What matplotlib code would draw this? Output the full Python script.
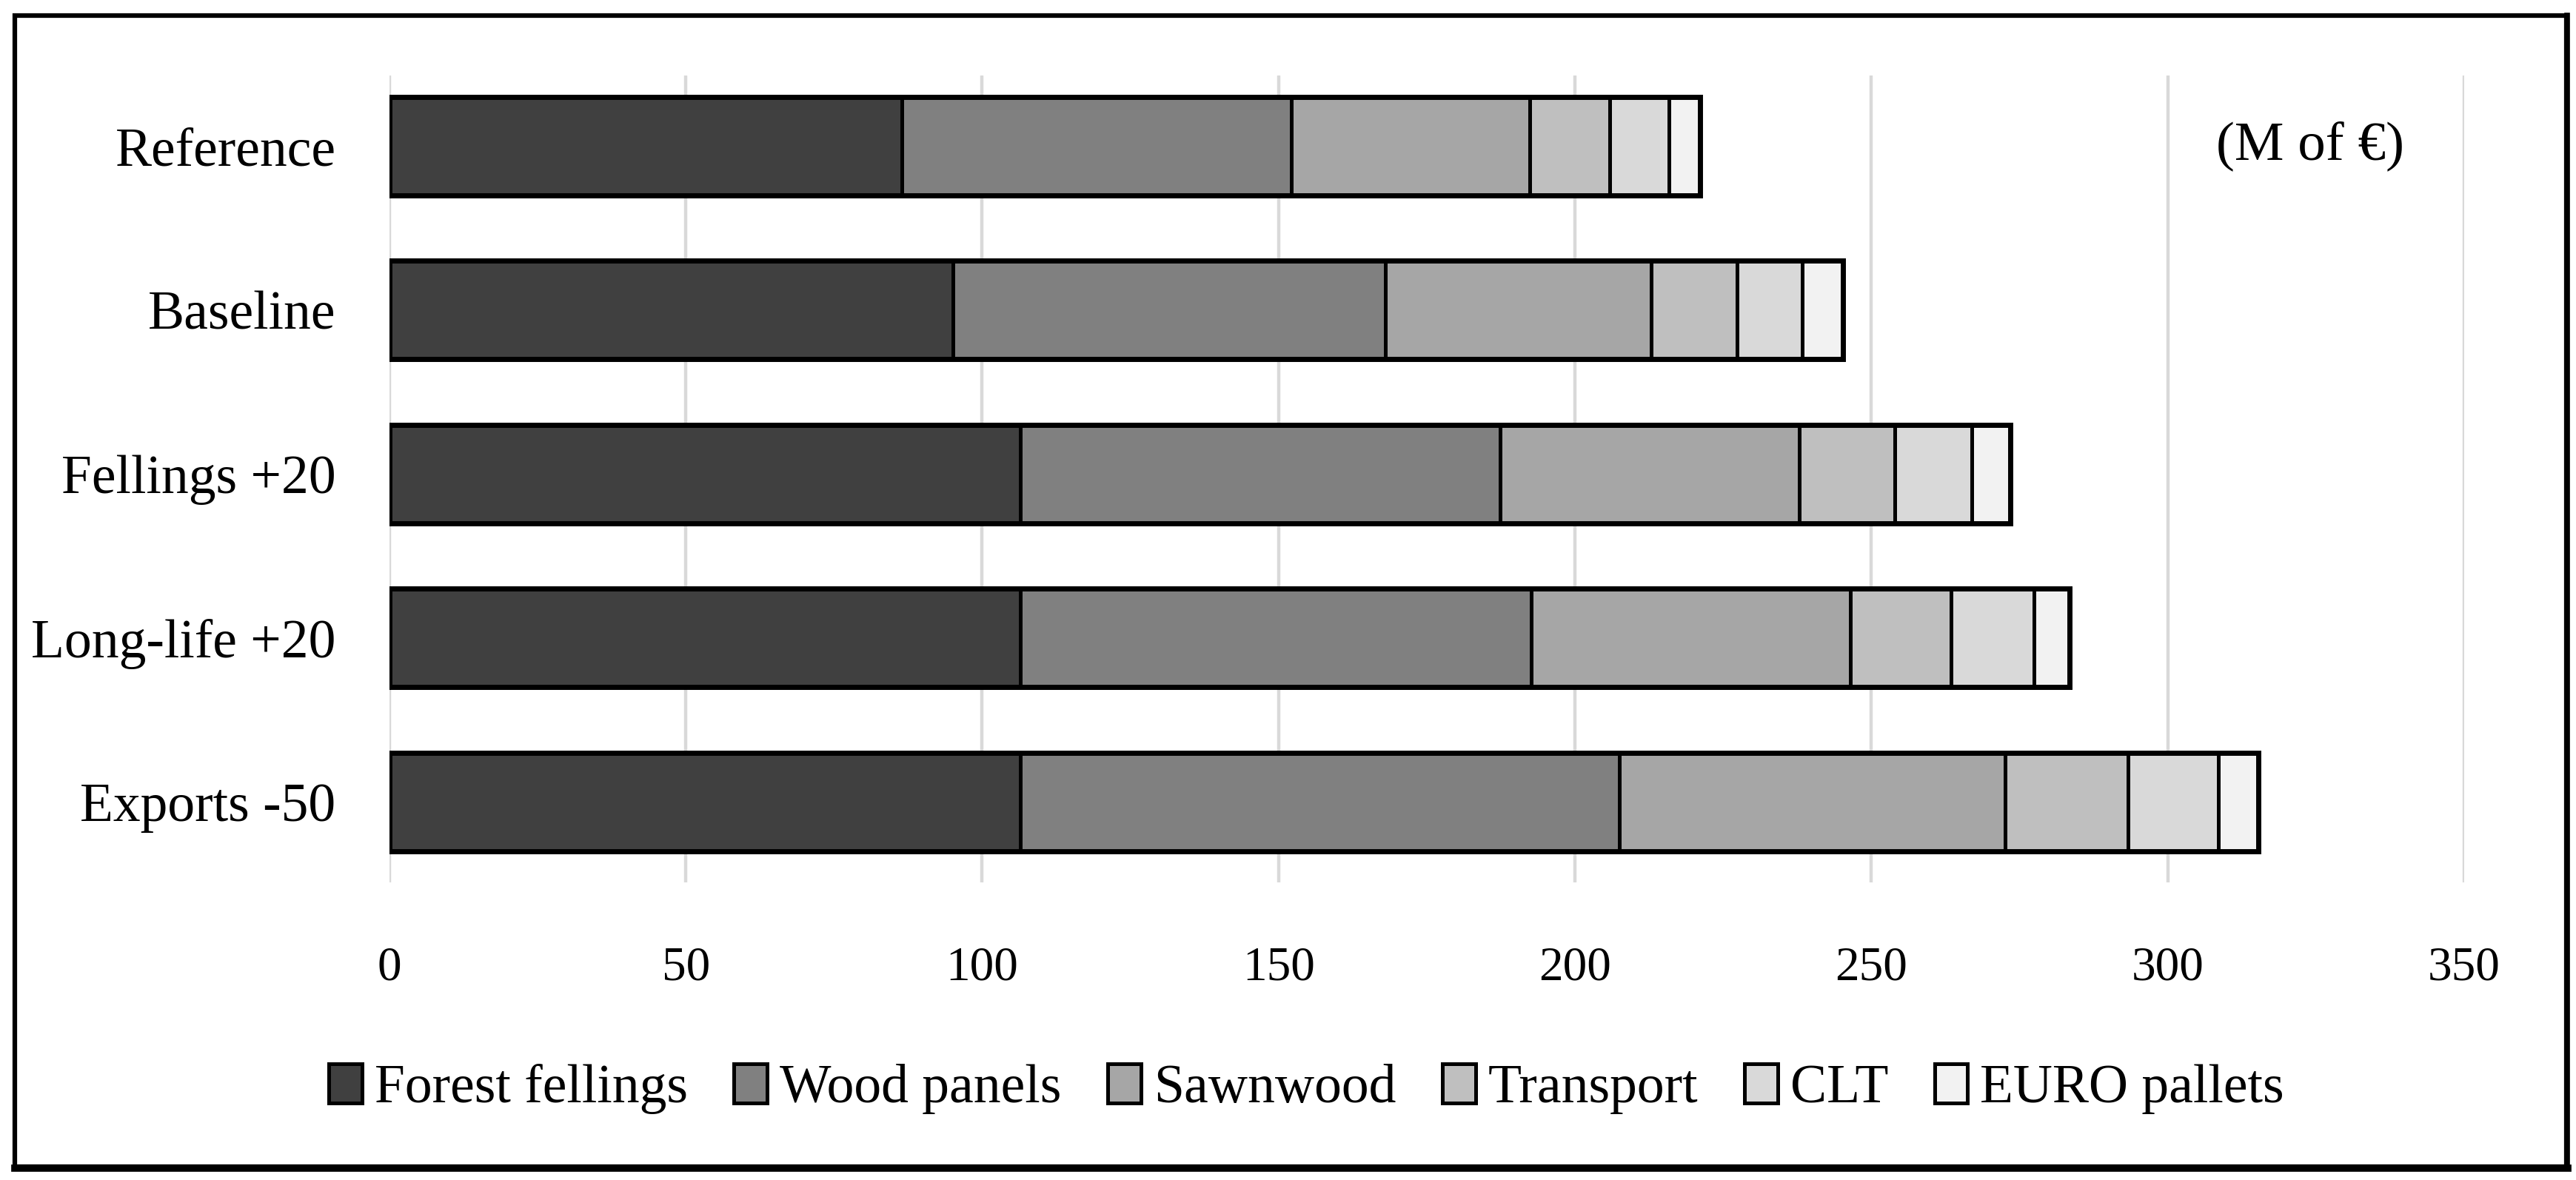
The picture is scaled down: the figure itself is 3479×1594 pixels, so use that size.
import numpy as np
import matplotlib
matplotlib.use("Agg")
import matplotlib.pyplot as plt
from matplotlib.patches import Rectangle
from matplotlib.lines import Line2D

plt.rcParams["font.family"] = ["Liberation Serif", "DejaVu Serif"]

# ── data (M of €) ────────────────────────────────────────────────────────────
scenarios = ["Reference", "Baseline", "Fellings +20", "Long-life +20", "Exports -50"]
sectors = ["Forest fellings", "Wood panels", "Sawnwood", "Transport", "CLT", "EURO pallets"]

forest_fellings = [86.4, 95.1, 106.5, 106.5, 106.5]
wood_panels     = [65.7, 72.9, 80.9, 86.1, 101.0]
sawnwood        = [40.3, 44.9, 50.5, 53.8, 65.1]
transport       = [13.5, 14.5, 16.1, 17.0, 20.7]
clt             = [10.0, 11.0, 13.0, 14.0, 15.3]
euro_pallets    = [5.2, 6.8, 6.4, 6.0, 6.7]

xticks = [0, 50, 100, 150, 200, 250, 300, 350]
colors = ["#404040", "#808080", "#a6a6a6", "#bfbfbf", "#d9d9d9", "#f2f2f2"]

series = [forest_fellings, wood_panels, sawnwood, transport, clt, euro_pallets]

# ── plot ─────────────────────────────────────────────────────────────────────
fig = plt.figure(figsize=(34.8, 15.94), dpi=100)
ax = fig.add_axes([0.1511, 0.2522, 0.8052, 0.6838])

y = np.arange(len(scenarios))
left = np.zeros(len(scenarios))
for name, vals, c in zip(sectors, series, colors):
    ax.barh(y, vals, left=left, height=0.6, color=c, edgecolor="black",
            linewidth=3.6, label=name, zorder=3)
    left += np.array(vals)
# heavier outline around each whole stacked bar
ax.barh(y, left, height=0.6, fill=False, edgecolor="black", linewidth=5.0, zorder=4)

ax.set_xlim(0, 350)
ax.set_ylim(4.49, -0.43)
ax.set_xticks(xticks)
ax.set_yticks(y)
ax.set_yticklabels(scenarios)
ax.tick_params(axis="y", length=0, pad=52, labelsize=53)
ax.tick_params(axis="x", length=0, pad=62, labelsize=47)
for s in ax.spines.values():
    s.set_visible(False)
ax.set_axisbelow(True)
ax.xaxis.grid(True, color="#d9d9d9", lw=3.2)

ax.text(324, 0, "(M of €)", ha="center", va="center", fontsize=54)

fig.legend(loc="center", bbox_to_anchor=(0.507, 1 - 1471 / 1594), ncol=6,
           frameon=False, fontsize=53, handlelength=0.61, handleheight=0.73,
           handletextpad=0.23, columnspacing=0.85)

# outer frame, slightly heavier at bottom/right
fig.patches.append(Rectangle((20 / 3480, 1 - 1576 / 1594), 3446 / 3480, 1555 / 1594,
                             transform=fig.transFigure, fill=False,
                             edgecolor="black", lw=4.5))
fig.lines.append(Line2D([20 / 3480, 3468 / 3480], [1 - 1578 / 1594] * 2,
                        transform=fig.transFigure, color="black", lw=7))
fig.lines.append(Line2D([3467 / 3480] * 2, [1 - 1578 / 1594, 1 - 21 / 1594],
                        transform=fig.transFigure, color="black", lw=5.5))

fig.savefig("out.png", dpi=100, facecolor="white")
